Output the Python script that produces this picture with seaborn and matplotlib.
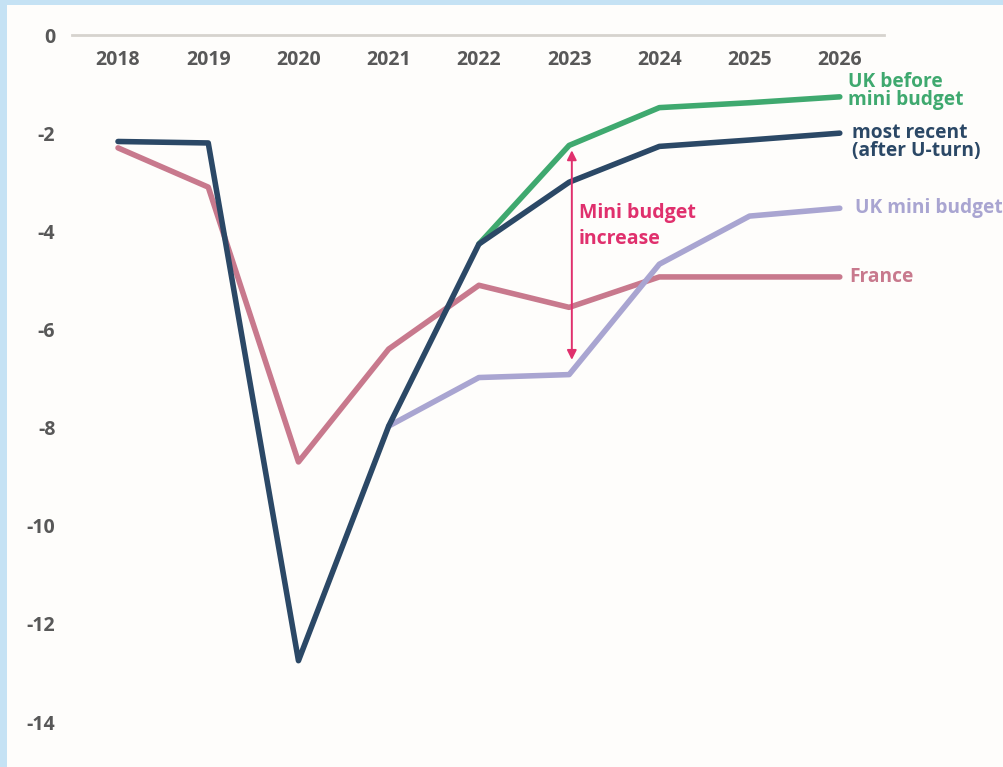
import matplotlib
matplotlib.use("Agg")
import matplotlib.pyplot as plt
import matplotlib.patches as mpatches
import numpy as np
import pandas as pd
import seaborn as sns

# Government budget balance (% of GDP), 2018-2026
years = [2018, 2019, 2020, 2021, 2022, 2023, 2024, 2025, 2026]

france = [-2.3, -3.1, -8.7, -6.4, -5.1, -5.55, -4.93, -4.93, -4.93]
most_recent = [-2.17, -2.2, -12.75, -7.97, -4.26, -3.0, -2.27, -2.14, -2.0]
uk_before = [None, None, None, None, -4.26, -2.25, -1.48, -1.38, -1.26]
uk_mini = [None, None, None, -7.97, -6.98, -6.92, -4.67, -3.69, -3.53]

series_names = ["France", "UK mini budget", "UK before mini budget", "most recent"]
series_values = [france, uk_mini, uk_before, most_recent]
series_labels = ["France", "UK mini budget", "UK before\nmini budget", "most recent\n(after U-turn)"]
label_y = [-4.94, -3.52, -1.14, -2.18]
label_x = [2026.1, 2026.17, 2026.09, 2026.14]

y_ticks = [0, -2, -4, -6, -8, -10, -12, -14]

arrow_top = -2.35
arrow_bottom = -6.62
arrow_x = 2023.03
arrow_text = "Mini budget\nincrease"

colors = {
    "France": "#c8798d",
    "UK mini budget": "#a9a5d1",
    "UK before mini budget": "#3fa96f",
    "most recent": "#2b4866",
}
text_gray = "#585858"
arrow_color = "#e0306d"

rows = []
for name, vals in zip(series_names, series_values):
    for yr, v in zip(years, vals):
        if v is not None:
            rows.append({"year": yr, "balance": v, "series": name})
df = pd.DataFrame(rows)

sns.set_theme(style="white")
plt.rcParams["font.family"] = ["Open Sans", "DejaVu Sans"]

fig = plt.figure(figsize=(10.04, 7.67), dpi=100)
fig.patch.set_facecolor("#c5e2f4")
# white card sitting on the blue background
fig.add_artist(mpatches.Rectangle((7 / 1004, 0), 1 - 7 / 1004, 1 - 5 / 767,
                                  transform=fig.transFigure, facecolor="#fefdfb",
                                  edgecolor="none", zorder=0))

ax = fig.add_axes([72 / 1004, 1 - 750 / 767, (884 - 72) / 1004, (750 - 35) / 767])
ax.set_facecolor("none")

sns.lineplot(data=df, x="year", y="balance", hue="series", hue_order=series_names,
             palette=colors, linewidth=4.0, legend=False, estimator=None, sort=True,
             solid_capstyle="round", solid_joinstyle="round", ax=ax)

ax.set_xlim(2017.49, 2026.49)
ax.set_ylim(-14.57, 0)

for side in ["left", "right", "bottom"]:
    ax.spines[side].set_visible(False)
ax.spines["top"].set_color("#d6d3ce")
ax.spines["top"].set_linewidth(2)

ax.xaxis.tick_top()
ax.set_xticks(years)
ax.set_xticklabels([str(y) for y in years])
ax.set_yticks(y_ticks)
ax.set_yticklabels([str(t) for t in y_ticks])
ax.tick_params(axis="x", length=0, pad=-25, labelsize=14, labelcolor=text_gray)
ax.tick_params(axis="y", length=0, pad=12, labelsize=14, labelcolor=text_gray)
for lbl in ax.get_xticklabels() + ax.get_yticklabels():
    lbl.set_fontweight("bold")
ax.set_xlabel("")
ax.set_ylabel("")
ax.grid(False)

for name, text, lx, ly in zip(series_names, series_labels, label_x, label_y):
    ax.text(lx, ly, text, color=colors[name], fontsize=13.8, fontweight="bold",
            va="center", ha="left", linespacing=0.92, clip_on=False)

ax.annotate("", xy=(arrow_x, arrow_top), xytext=(arrow_x, arrow_bottom),
            arrowprops=dict(arrowstyle="<|-|>", color=arrow_color, lw=1.4,
                            mutation_scale=14, shrinkA=0, shrinkB=0))
ax.text(arrow_x + 0.08, -3.9, arrow_text, color=arrow_color, fontsize=14,
        fontweight="bold", va="center", ha="left", linespacing=1.4)

fig.savefig("out.png", dpi=100, facecolor=fig.get_facecolor())
